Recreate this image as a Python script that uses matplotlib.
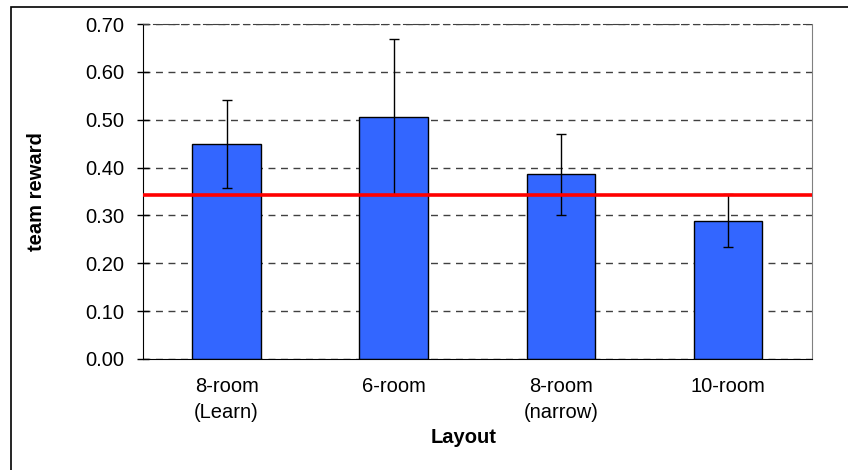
import matplotlib
matplotlib.use("Agg")
import matplotlib.pyplot as plt
from matplotlib.patches import Rectangle
import numpy as np

#Chart data
#--------------------------------------------------------
layouts = ["8-room\n(Learn)", "6-room", "8-room\n(narrow)", "10-room"]
reward = [0.449, 0.506, 0.386, 0.289]
reward_err = [0.092, 0.163, 0.085, 0.055]
baseline = 0.342
yticks = [0.0, 0.1, 0.2, 0.3, 0.4, 0.5, 0.6, 0.7]

plt.rcParams['font.family'] = ['Liberation Sans', 'DejaVu Sans']

fig = plt.figure(figsize=(8.48, 4.70), dpi=100)
ax = fig.add_axes([143/848, 1 - 359/470, (811.7 - 143)/848, (359 - 24)/470])

#outer chart border (cut off at right and bottom)
fig.patches.append(Rectangle((10.5/848, -0.1), 1.2, 1 - 6.5/470 + 0.1,
                             transform=fig.transFigure, fill=False,
                             edgecolor='black', linewidth=1.2))

x = np.arange(len(layouts))
ax.set_axisbelow(True)
ax.yaxis.grid(True, linestyle=(0, (5, 4)), color='#404040', linewidth=1)
ax.bar(x, reward, width=0.41, color='#3366FF', edgecolor='black', linewidth=1, zorder=2)
ax.errorbar(x, reward, yerr=reward_err, fmt='none', ecolor='black',
            elinewidth=1, capsize=3.6, capthick=1, zorder=3)
ax.axhline(baseline, color='#FF0000', linewidth=2.6, zorder=4)

ax.set_xlim(-0.5, len(layouts) - 0.5)
ax.set_ylim(0, 0.7)
ax.set_yticks(yticks)
ax.set_yticklabels(["%.2f" % v for v in yticks], fontsize=14.5)
ax.set_xticks(x)
ax.set_xticklabels(layouts, fontsize=14.5, linespacing=1.45)
ax.tick_params(axis='y', direction='inout', length=8.6, width=1, pad=9)
ax.tick_params(axis='x', length=0, pad=13)

ax.spines['left'].set_color('black')
ax.spines['bottom'].set_color('black')
ax.spines['right'].set_color('#808080')
ax.spines['top'].set_linestyle((0, (5, 4)))
ax.spines['top'].set_color('#404040')

ax.set_ylabel("team reward", fontsize=14.5, fontweight='bold')
ax.yaxis.set_label_coords(-97/668.7, 0.5)
ax.set_xlabel("Layout", fontsize=14.5, fontweight='bold')
ax.xaxis.set_label_coords((464 - 143)/668.7, -(428 - 359)/335)

fig.savefig("out.png", dpi=100)
